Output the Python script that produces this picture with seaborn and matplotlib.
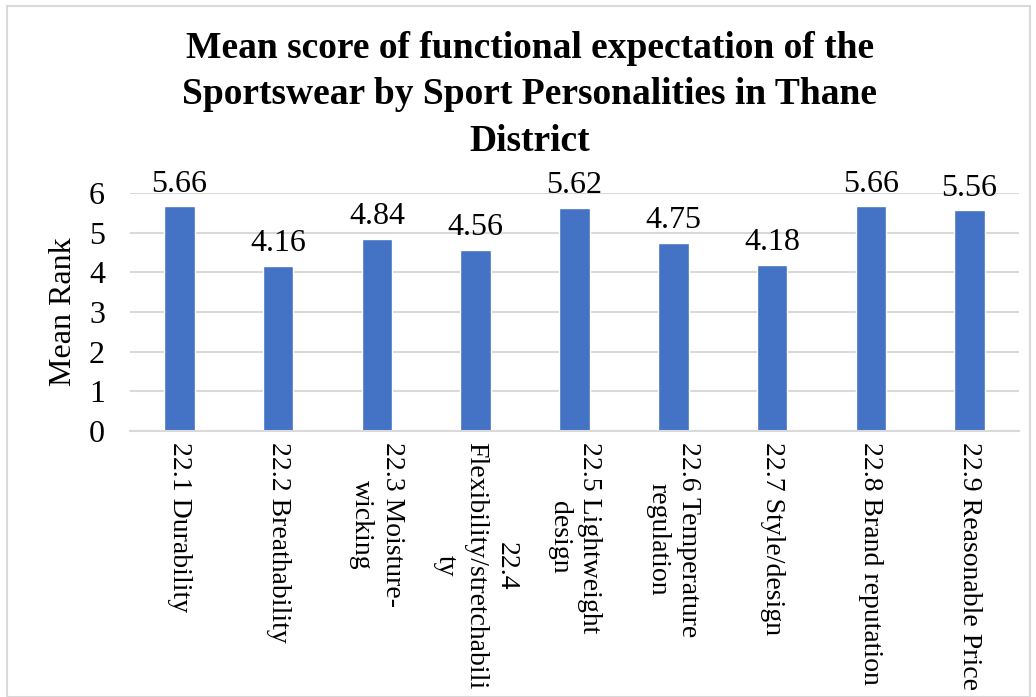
import matplotlib
matplotlib.use("Agg")
import matplotlib.pyplot as plt
import seaborn as sns
import pandas as pd
from matplotlib.patches import Rectangle

# Category labels (wrapped as in the source chart) and mean rank values
categories = [
    "22.1 Durability",
    "22.2 Breathability",
    "22.3 Moisture-\nwicking",
    "22.4\nFlexibility/stretchabili\nty",
    "22.5 Lightweight\ndesign",
    "22.6 Temperature\nregulation",
    "22.7 Style/design",
    "22.8 Brand reputation",
    "22.9 Reasonable Price",
]
mean_rank = [5.66, 4.16, 4.84, 4.56, 5.62, 4.75, 4.18, 5.66, 5.56]
y_ticks = [0, 1, 2, 3, 4, 5, 6]

df = pd.DataFrame({"category": categories, "mean_rank": mean_rank})

sns.set_theme(style="white")
plt.rcParams["font.family"] = ["Liberation Serif", "DejaVu Serif"]
plt.rcParams["text.color"] = "black"
plt.rcParams["xtick.color"] = "black"
plt.rcParams["ytick.color"] = "black"
plt.rcParams["axes.labelcolor"] = "black"

W, H = 1036, 697
fig = plt.figure(figsize=(W / 100, H / 100), dpi=100)

# light grey frame around the chart
fig.patches.append(Rectangle((7 / W, 0), (1030 - 7) / W, (H - 6) / H,
                             transform=fig.transFigure, fill=False,
                             edgecolor="#d9d9d9", linewidth=1.5))

left, right, top, bottom = 130, 1019, 193, 431
ax = fig.add_axes([left / W, (H - bottom) / H, (right - left) / W, (bottom - top) / H])

sns.barplot(data=df, x="category", y="mean_rank", color="#4472C4",
            saturation=1, width=0.31, ax=ax)

ax.set_ylim(0, 6)
ax.set_yticks(y_ticks)
ax.yaxis.grid(True, color="#d9d9d9", linewidth=1.5)
ax.set_axisbelow(True)
for s in ["top", "right", "left"]:
    ax.spines[s].set_visible(False)
ax.spines["bottom"].set_color("#d9d9d9")
ax.spines["bottom"].set_linewidth(1.5)

ax.tick_params(axis="y", labelsize=23, length=0, pad=18)
ax.tick_params(axis="x", labelsize=20, length=0, pad=8)
for lbl in ax.get_xticklabels():
    lbl.set_rotation(-90)
    lbl.set_va("top")
    lbl.set_ha("center")
    lbl.set_multialignment("center")
    lbl.set_linespacing(1.3)

ax.set_xlabel("")
ax.set_ylabel("Mean Rank", fontsize=23, labelpad=8)

for i, v in enumerate(mean_rank):
    ax.text(i, v + 0.2, f"{v:.2f}", ha="center", va="bottom", fontsize=23,
            clip_on=False)

fig.text(530 / W, 1 - 31 / H,
         "Mean score of functional expectation of the\n"
         "Sportswear by Sport Personalities in Thane\nDistrict",
         ha="center", va="top", fontsize=27, fontweight="bold", linespacing=1.42)

fig.savefig("out.png", dpi=100)
